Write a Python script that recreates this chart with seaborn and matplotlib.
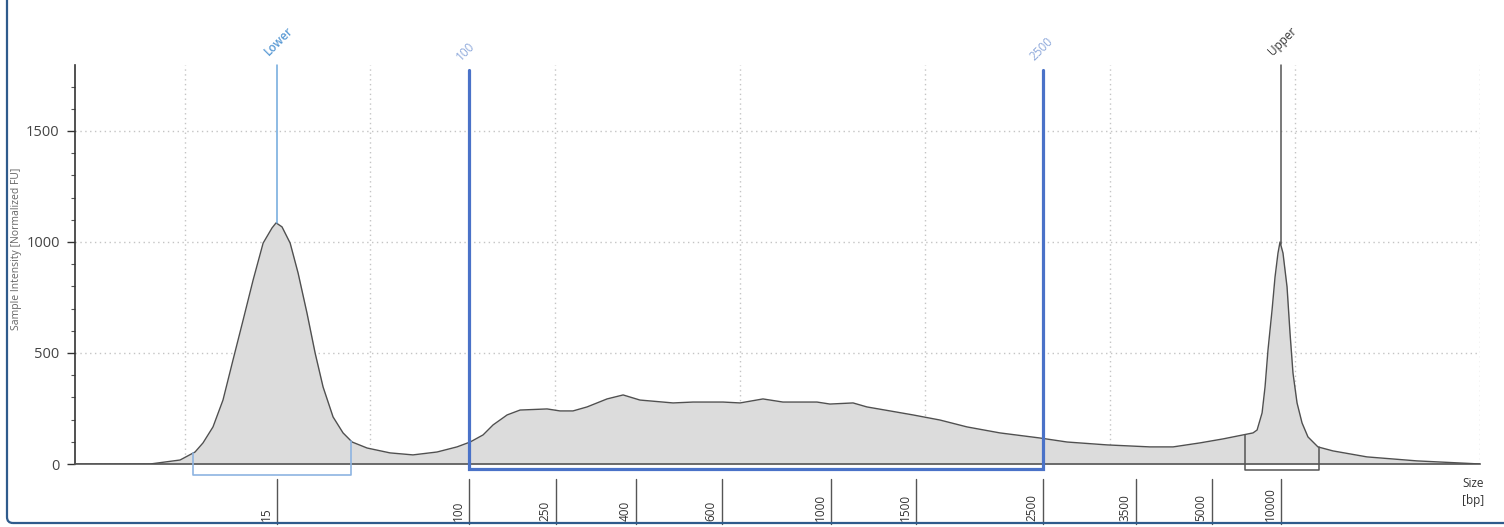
import numpy as np
import matplotlib
matplotlib.use("Agg")
import matplotlib.pyplot as plt
import matplotlib.transforms as mtransforms
from matplotlib.patches import FancyBboxPatch
from matplotlib.ticker import MultipleLocator
import seaborn as sns

#------------------------------ Data ------------------------------------------
# electropherogram trace: migration time [s] vs sample intensity [normalized FU]
trace_time = [4.05, 8.11, 9.73, 10.54, 10.97, 11.51, 12.05, 12.59, 13.14, 13.68,
              14.22, 14.70, 14.92, 15.24, 15.68, 16.11, 16.59, 17.03, 17.46, 18.00,
              18.54, 19.03, 19.84, 21.08, 22.32, 23.62, 24.70, 25.41, 26.11, 26.65,
              27.41, 28.11, 29.57, 30.27, 30.97, 31.73, 32.81, 33.68, 34.59, 36.38,
              37.46, 39.08, 40.00, 41.24, 42.32, 44.16, 44.86, 46.11, 46.86, 48.11,
              49.35, 50.81, 52.27, 54.05, 56.22, 57.68, 59.84, 62.16, 63.41, 64.86,
              66.11, 67.19, 67.73, 67.95, 68.22, 68.38, 68.54, 68.76, 68.92, 69.08,
              69.19, 69.35, 69.57, 69.73, 69.89, 70.11, 70.38, 70.70, 71.24, 72.05,
              73.89, 76.59, 79.30, 80.00]
trace_fu = [0, 0, 18, 54, 95, 167, 288, 468, 649, 829,
            995, 1063, 1086, 1068, 995, 860, 680, 500, 347, 212,
            140, 99, 72, 50, 41, 54, 77, 99, 131, 176,
            221, 243, 248, 239, 239, 257, 293, 311, 288, 275,
            279, 279, 275, 293, 279, 279, 270, 275, 257, 239,
            221, 198, 167, 140, 117, 99, 86, 77, 77, 95,
            113, 131, 140, 153, 230, 347, 514, 694, 842, 950,
            1000, 950, 797, 590, 410, 275, 185, 122, 77, 59,
            32, 14, 3, 0]

# ladder sizes and where they sit on the time axis
ladder_bp = ['15', '100', '250', '400', '600', '1000', '1500', '2500', '3500', '5000', '10000']
ladder_time = [14.97, 25.35, 30.05, 34.38, 39.03, 44.92, 49.51, 56.38, 61.41, 65.51, 69.24]

# markers and region
lower_time = 14.95
upper_time = 69.22
lower_range = [10.43, 18.97]
upper_range = [67.30, 71.30]
region_range = [25.35, 56.38]
region_labels = ['100', '2500']

#------------------------------ Style -----------------------------------------
sns.set_style('white')
plt.rcParams['font.family'] = ['Open Sans', 'DejaVu Sans']

fig = plt.figure(figsize=(15.04, 5.27), dpi=100)
ax = fig.add_axes([75/1504, 63/527, 1405/1504, 399/527])

# trace
ax.fill_between(trace_time, trace_fu, 0, color='#dcdcdc', lw=0, zorder=1)
sns.lineplot(x=trace_time, y=trace_fu, ax=ax, color='#505050', lw=1.0,
             sort=False, zorder=3)

ax.set_xlim(4.05, 80)
ax.set_ylim(0, 1797)

# grid
ax.set_xticks(np.arange(10, 81, 10))
ax.set_yticks([0, 500, 1000, 1500])
ax.yaxis.set_minor_locator(MultipleLocator(100))
ax.grid(True, color='#c4c4c4', linestyle=(0, (1, 2.5)), lw=1)
ax.set_axisbelow(True)
ax.tick_params(axis='x', length=0, labelbottom=False)
ax.tick_params(axis='y', which='major', length=6, width=1, color='#333333',
               labelsize=10.5, labelcolor='#444444', pad=5, left=True)
ax.tick_params(axis='y', which='minor', length=3, width=0.8, color='#555555', left=True)
ax.set_ylabel('Sample Intensity [Normalized FU]', fontsize=7.5, color='#666666')
ax.yaxis.set_label_coords(-0.0375, 0.54)

for s in ['top', 'right']:
    ax.spines[s].set_visible(False)
ax.spines['left'].set_color('#333333')
ax.spines['bottom'].set_color('#555555')
ax.spines['left'].set_linewidth(1.2)
ax.spines['bottom'].set_linewidth(1.2)

# Lower / Upper marker lines
lower_peak = np.interp(lower_time, trace_time, trace_fu)
upper_peak = np.interp(upper_time, trace_time, trace_fu)
ax.plot([lower_time, lower_time], [lower_peak, 1797], color='#6fa8dc', lw=1.1, clip_on=False, zorder=4)
ax.plot([upper_time, upper_time], [upper_peak, 1797], color='#555555', lw=1.1, clip_on=False, zorder=4)

# brackets under Lower / Upper peaks
lo = lower_range
ax.plot([lo[0], lo[0], lo[1], lo[1]],
        [np.interp(lo[0], trace_time, trace_fu), -48, -48, np.interp(lo[1], trace_time, trace_fu)],
        color='#8db4e2', lw=1.2, clip_on=False, zorder=4)
up = upper_range
ax.plot([up[0], up[0], up[1], up[1]],
        [np.interp(up[0], trace_time, trace_fu), -25, -25, np.interp(up[1], trace_time, trace_fu)],
        color='#555555', lw=1.1, clip_on=False, zorder=4)

# region box 100 - 2500 bp
r0, r1 = region_range
ax.plot([r0, r0, r1, r1], [1775, -22, -22, 1775], color='#4a72c8', lw=2.3,
        clip_on=False, zorder=5, solid_joinstyle='miter')

# rotated labels on top of the marker lines
top_labels = [('Lower', lower_time, 1797, '#5b9bd5', 'semibold'),
              (region_labels[0], r0, 1775, '#8ea9db', 'normal'),
              (region_labels[1], r1, 1775, '#8ea9db', 'normal'),
              ('Upper', upper_time, 1797, '#333333', 'normal')]
for txt, xt, yt, col, wt in top_labels:
    ax.annotate(txt, xy=(xt, yt), xytext=(-6, 7), textcoords='offset pixels',
                rotation=45, rotation_mode='anchor', ha='left', va='bottom',
                fontsize=8.5, color=col, fontweight=wt, annotation_clip=False)

# ladder ticks and labels under the axis
blend = mtransforms.blended_transform_factory(ax.transData, fig.transFigure)
for bp, t in zip(ladder_bp, ladder_time):
    ax.plot([t, t], [(527 - 479) / 527, (527 - 524) / 527], transform=blend,
            color='#555555', lw=1, clip_on=False)
    ax.annotate(bp, xy=(t, 6 / 527), xycoords=blend, xytext=(-11, 0),
                textcoords='offset pixels', rotation=90, ha='center', va='bottom',
                fontsize=8.5, color='#333333', annotation_clip=False)

fig.text(1462 / 1504, 1 - 477 / 527, 'Size\n[bp]', ha='left', va='top',
         fontsize=8.5, color='#333333', linespacing=1.4)

ax.set_xlim(4.05, 80)
ax.set_ylim(0, 1797)

# panel frame (left and bottom edges visible)
frame = FancyBboxPatch((7, 4), 1700, 800, boxstyle='round,pad=0,rounding_size=6',
                       transform=mtransforms.IdentityTransform(), fc='none',
                       ec='#2f5b8c', lw=1.6, clip_on=False)
fig.add_artist(frame)

fig.savefig('out.png', dpi=100)
